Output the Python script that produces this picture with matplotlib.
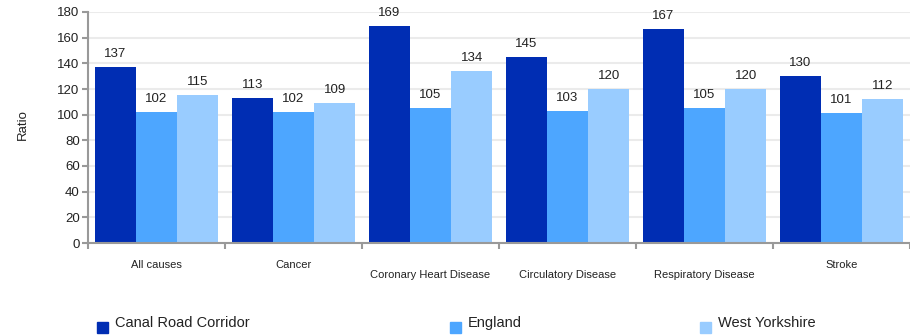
import numpy as np
import matplotlib
matplotlib.use("Agg")
import matplotlib.pyplot as plt

plt.rcParams["font.family"] = ["Liberation Sans", "DejaVu Sans"]

categories = ["All causes", "Cancer", "Coronary Heart Disease",
              "Circulatory Disease", "Respiratory Disease", "Stroke"]
canal_road = [137, 113, 169, 145, 167, 130]
england = [102, 102, 105, 103, 105, 101]
west_yorks = [115, 109, 134, 120, 120, 112]

series = [("Canal Road Corridor", canal_road, "#002DB3"),
          ("England", england, "#4DA6FF"),
          ("West Yorkshire", west_yorks, "#99CCFF")]

fig = plt.figure(figsize=(9.1, 3.36), dpi=100)
ax = fig.add_axes([88 / 910, 93 / 336, 822 / 910, 231 / 336])

x = np.arange(len(categories))
w = 0.3
for i, (name, vals, col) in enumerate(series):
    xs = x + (i - 1) * w
    ax.bar(xs, vals, w, color=col, zorder=2)
    for xi, v in zip(xs, vals):
        ax.annotate(str(v), (xi, v), xytext=(0, 5), textcoords="offset points",
                    ha="center", va="bottom", fontsize=9.5, color="#222222")

ax.set_xlim(-0.5, len(categories) - 0.5)
ax.set_ylim(0, 180)
ax.set_yticks(range(0, 181, 20))
ax.tick_params(axis="y", labelsize=9.5, colors="#999999", labelcolor="#222222",
               length=4, width=1.5, pad=2)
ax.grid(axis="y", color="#ebebeb", lw=1.5, zorder=0)

ax.set_xticks(np.arange(len(categories) + 1) - 0.5)
ax.set_xticklabels([])
ax.tick_params(axis="x", colors="#999999", length=4, width=1.5)

# category labels, the long ones sit a bit lower
drop = [0, 0, 1, 1, 1, 0]
for xi, name, d in zip(x, categories, drop):
    ax.annotate(name, (xi, 0), xytext=(0, -16 - 7 * d), textcoords="offset points",
                ha="center", va="center", fontsize=8, color="#222222",
                annotation_clip=False)

for s in ["top", "right"]:
    ax.spines[s].set_visible(False)
for s in ["left", "bottom"]:
    ax.spines[s].set_color("#999999")
    ax.spines[s].set_linewidth(1.5)

fig.text(23 / 910, 1 - 125 / 336, "Ratio", rotation=90, ha="center",
         va="center", fontsize=9.5, color="#222222")

# legend
leg_x = [97, 450, 700]
for (name, vals, col), lx in zip(series, leg_x):
    fig.patches.append(plt.Rectangle((lx / 910, 1 - 333 / 336), 11 / 910, 11 / 336,
                                     transform=fig.transFigure, color=col))
    fig.text((lx + 18) / 910, 1 - 323 / 336, name, fontsize=10.5,
             va="center", ha="left", color="#222222")

fig.savefig("out.png", dpi=100)
